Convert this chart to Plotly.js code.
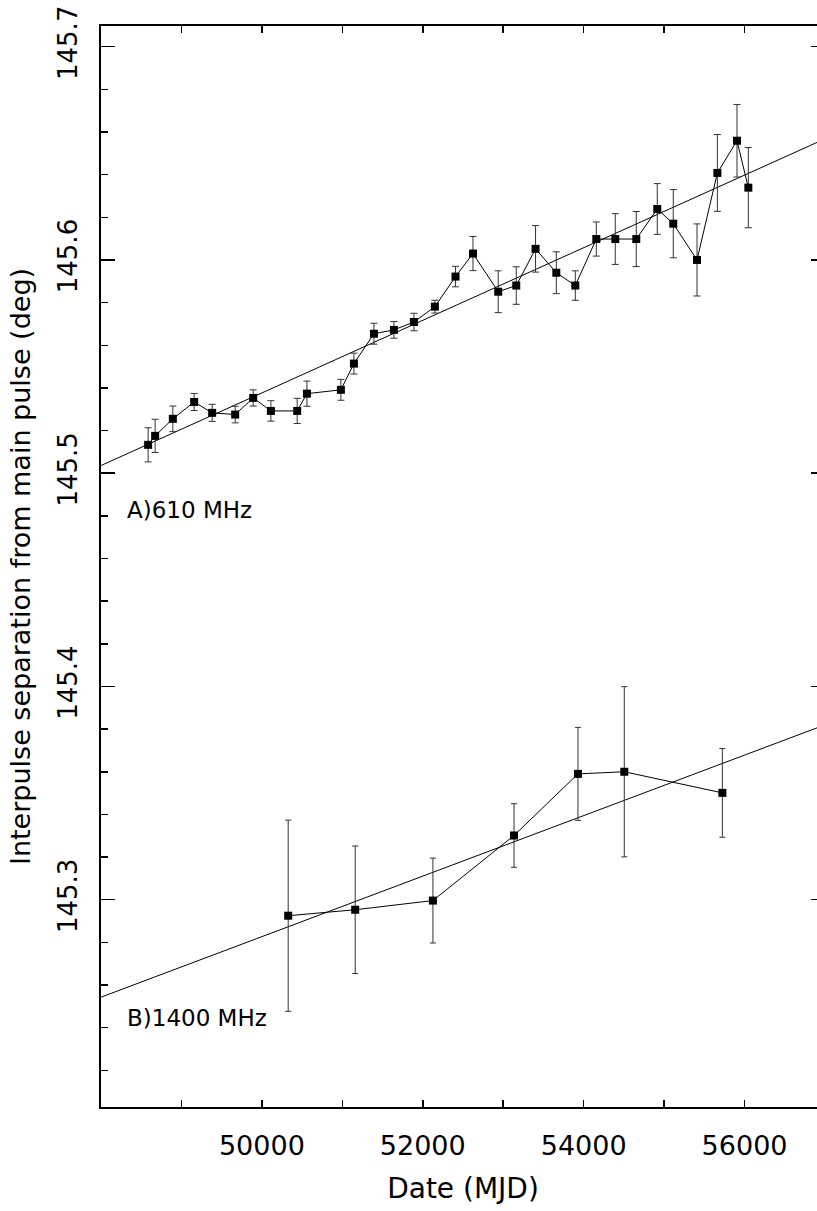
<!DOCTYPE html>
<html>
<head>
<meta charset="utf-8">
<script src="https://cdn.plot.ly/plotly-3.0.1.min.js"></script>
<style>
html,body{margin:0;padding:0;overflow:hidden;background:#fff;}
#chart{width:830px;height:1211px;}
</style>
</head>
<body>
<div id="chart"></div>
<script>
// 610 MHz series
const mjdA = [48586, 48673, 48893, 49158, 49382, 49668, 49892, 50112, 50439, 50560,
              50982, 51144, 51393, 51641, 51890, 52151, 52407, 52624, 52938, 53162,
              53402, 53660, 53896, 54157, 54393, 54654, 54915, 55114, 55409, 55662,
              55906, 56047];
const sepA = [145.5133, 145.5175, 145.5255, 145.5334, 145.5283, 145.5275, 145.5353, 145.5292, 145.5292, 145.5373,
              145.5391, 145.5514, 145.5654, 145.5672, 145.5709, 145.5781, 145.5922, 145.6030, 145.5851, 145.5880,
              145.6052, 145.5940, 145.5880, 145.6098, 145.6098, 145.6098, 145.6239, 145.6170, 145.6000, 145.6408,
              145.6559, 145.6339];
const errA = [0.0080, 0.0078, 0.0060, 0.0040, 0.0040, 0.0039, 0.0038, 0.0048, 0.0059, 0.0059,
              0.0049, 0.0049, 0.0049, 0.0039, 0.0041, 0.0030, 0.0048, 0.0080, 0.0098, 0.0088,
              0.0109, 0.0098, 0.0069, 0.0080, 0.0119, 0.0129, 0.0119, 0.0160, 0.0169, 0.0180,
              0.0170, 0.0188];
// 1400 MHz series
const mjdB = [50327, 51160, 52126, 53134, 53929, 54505, 55724];
const sepB = [145.2925, 145.2953, 145.2996, 145.3301, 145.3590, 145.3600, 145.3501];
const errB = [0.0448, 0.0299, 0.0199, 0.0149, 0.0218, 0.0399, 0.0208];
// linear fits (end points)
const fitX = [48000, 57000];
const fitA = [145.5036, 145.6568];
const fitB = [145.2543, 145.3820];
// axes
const xTicks = [50000, 52000, 54000, 56000];
const xTickText = ['50000', '52000', '54000', '56000'];
const xRange = [48000, 57000];
const yRange = [145.2028, 145.7097];
const labelA = 'A)610 MHz';
const labelB = 'B)1400 MHz';
const xTitle = 'Date (MJD)';
const yTitle = 'Interpulse separation from main pulse (deg)';

const FONT = 'DejaVu Sans, sans-serif';
const lineStyle = {color: '#000', width: 1};
const markerStyle = {symbol: 'square', size: 8, color: '#000'};

function series(x, y, e, cap) {
  return {
    x: x, y: y, type: 'scatter', mode: 'lines+markers',
    line: lineStyle, marker: markerStyle,
    error_y: {type: 'data', array: e, visible: true, color: '#333', thickness: 1, width: cap},
    hoverinfo: 'skip', showlegend: false, cliponaxis: false
  };
}
function fit(y) {
  return {x: fitX, y: y, type: 'scatter', mode: 'lines', line: lineStyle,
          hoverinfo: 'skip', showlegend: false};
}

const data = [fit(fitA), fit(fitB), series(mjdA, sepA, errA, 3.5), series(mjdB, sepB, errB, 3)];

const layout = {
  width: 830, height: 1211,
  margin: {l: 101, r: 5, t: 26, b: 104, pad: 0},
  paper_bgcolor: '#fff', plot_bgcolor: '#fff',
  font: {family: FONT, color: '#000', size: 27},
  showlegend: false,
  xaxis: {
    range: xRange, tickmode: 'array', tickvals: xTicks, ticktext: xTickText,
    ticks: 'inside', ticklen: 7, tickwidth: 1.5, tickcolor: '#000',
    minor: {tickmode: 'linear', tick0: 0, dtick: 1000, ticks: 'inside', ticklen: 7, tickwidth: 1.5, tickcolor: '#000'},
    showline: true, linewidth: 2, linecolor: '#000', mirror: 'ticks',
    showgrid: false, zeroline: false,
    tickfont: {family: FONT, size: 27, color: '#000'},
    ticklabelstandoff: 14,
    title: {text: xTitle, font: {family: FONT, size: 28, color: '#000'}, standoff: 18}
  },
  yaxis: {
    range: yRange, tickmode: 'linear', tick0: 145, dtick: 0.1,
    ticks: 'inside', ticklen: 14, tickwidth: 1.5, tickcolor: '#000',
    minor: {tickmode: 'linear', tick0: 145, dtick: 0.02, ticks: 'inside', ticklen: 7, tickwidth: 1.5, tickcolor: '#000'},
    showline: true, linewidth: 2, linecolor: '#000', mirror: 'ticks',
    showgrid: false, zeroline: false,
    tickangle: -90, tickformat: '.1f',
    tickfont: {family: FONT, size: 26, color: '#000'},
    ticklabelstandoff: 12,
    title: {text: yTitle, font: {family: FONT, size: 27, color: '#000'}, standoff: 14}
  },
  annotations: [
    {x: 48300, y: 145.4828, xref: 'x', yref: 'y', text: labelA, showarrow: false,
     xanchor: 'left', yanchor: 'middle', font: {family: FONT, size: 23, color: '#000'}},
    {x: 48300, y: 145.2446, xref: 'x', yref: 'y', text: labelB, showarrow: false,
     xanchor: 'left', yanchor: 'middle', font: {family: FONT, size: 23, color: '#000'}}
  ]
};

Plotly.newPlot('chart', data, layout, {displayModeBar: false, staticPlot: true});
</script>
</body>
</html>
